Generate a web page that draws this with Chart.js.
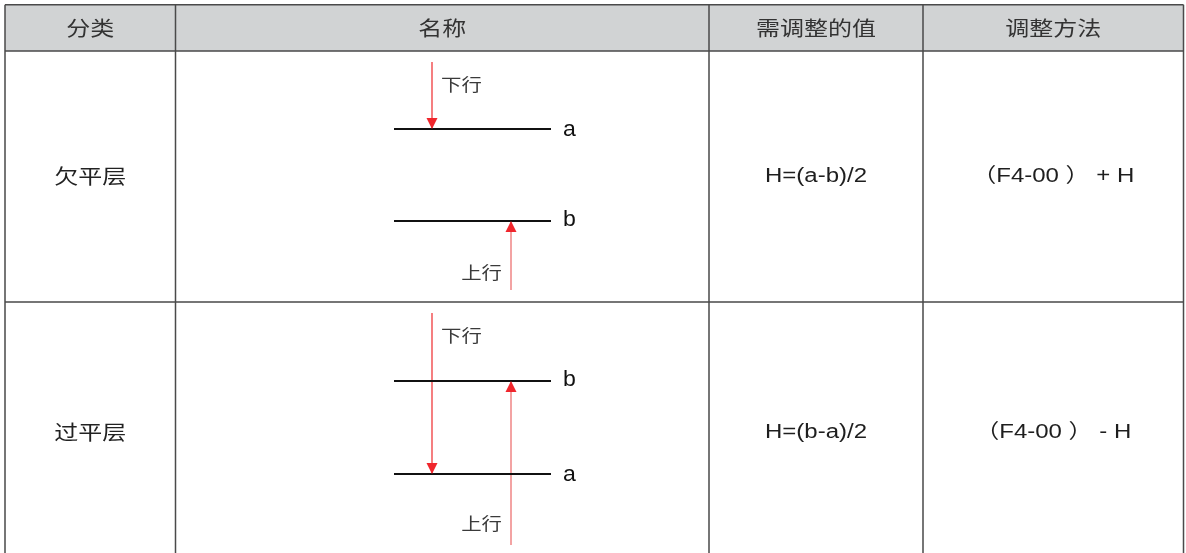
<!DOCTYPE html>
<html>
<head>
<meta charset="utf-8">
<script src="https://cdn.jsdelivr.net/npm/chart.js@4"></script>
<style>
  body { margin: 0; background: #fff; }
  canvas { display: block; }
</style>
</head>
<body>
<canvas id="chart" width="1186" height="553"></canvas>
<script>
const headers = ['分类', '名称', '需调整的值', '调整方法'];
const categories = ['欠平层', '过平层'];
const adjustValues = ['H=(a-b)/2', 'H=(b-a)/2'];
const adjustMethods = ['（F4-00 ） + H', '（F4-00 ） - H'];
// floor levels of each row, top one first; position inside the row (0 = row top, 1 = row bottom)
const levelNames = [['a', 'b'], ['b', 'a']];
const levelPos = [[0.311, 0.677], [0.315, 0.685]];
// down arrow (下行) always stops on level a, up arrow (上行) on level b
const downStart = [0.044, 0.044];
const upStart = [0.952, 0.968];
const arrowLabels = ['下行', '上行'];

// layout
const colEdges = [5, 175.5, 709, 923, 1183.5];
const rowSpans = [1, 1.04];   // second row runs past the bottom of the picture
const headerTop = -0.184;
const levelX = [394, 551];
const downX = 432, upX = 511;
const CJK = "'Noto Sans CJK SC', sans-serif";
const LATIN = "'Liberation Sans', 'Noto Sans CJK SC', sans-serif";

function stretchText(ctx, text, x, y, font, color, align, sx) {
    ctx.save();
    ctx.font = font;
    ctx.fillStyle = color;
    ctx.textAlign = align || 'center';
    ctx.textBaseline = 'middle';
    ctx.translate(x, y);
    ctx.scale(sx || 1.2, 1);
    ctx.fillText(text, 0, 0);
    ctx.restore();
}

function levelOf(row, name) {
    return row + levelPos[row][levelNames[row].indexOf(name)];
}

const datasets = [];
categories.forEach((cat, r) => {
    levelPos[r].forEach(p => {
        datasets.push({
            type: 'line',
            data: [{x: levelX[0], y: r + p}, {x: levelX[1], y: r + p}],
            borderColor: '#111', borderWidth: 2, pointRadius: 0
        });
    });
    datasets.push({
        type: 'line',
        data: [{x: downX, y: r + downStart[r]}, {x: downX, y: levelOf(r, 'a')}],
        borderColor: '#ee2a2e', borderWidth: 1.2, pointRadius: 0
    });
    datasets.push({
        type: 'line',
        data: [{x: upX, y: r + upStart[r]}, {x: upX, y: levelOf(r, 'b')}],
        borderColor: '#f08c8c', borderWidth: 1.6, pointRadius: 0
    });
});

const tablePlugin = {
    id: 'table',
    beforeDatasetsDraw(chart) {
        const ctx = chart.ctx;
        const xs = chart.scales.x, ys = chart.scales.y;
        const top = ys.getPixelForValue(headerTop);
        const headBottom = ys.getPixelForValue(0);
        const rowLine = ys.getPixelForValue(rowSpans[0]);
        const left = xs.getPixelForValue(colEdges[0]);
        const right = xs.getPixelForValue(colEdges[colEdges.length - 1]);

        ctx.save();
        ctx.fillStyle = '#d1d3d4';
        ctx.fillRect(left, top, right - left, headBottom - top);

        ctx.strokeStyle = '#4a4a4a';
        ctx.lineWidth = 1.5;
        ctx.beginPath();
        [top, headBottom, rowLine].forEach(y => { ctx.moveTo(left, y); ctx.lineTo(right, y); });
        colEdges.forEach(c => {
            const x = xs.getPixelForValue(c);
            ctx.moveTo(x, top);
            ctx.lineTo(x, chart.height + 5);
        });
        ctx.stroke();

        const mids = colEdges.slice(1).map((c, i) => xs.getPixelForValue((c + colEdges[i]) / 2));
        const headMid = (top + headBottom) / 2;
        headers.forEach((h, i) => stretchText(ctx, h, mids[i], headMid, '20px ' + CJK, '#333'));

        let start = 0;
        categories.forEach((cat, r) => {
            const y = ys.getPixelForValue(start + rowSpans[r] / 2);
            start += rowSpans[r];
            stretchText(ctx, cat, mids[0], y, '20px ' + CJK, '#222');
            stretchText(ctx, adjustValues[r], mids[2], y, '20px ' + LATIN, '#1e1e1e');
            stretchText(ctx, adjustMethods[r], mids[3], y, '20px ' + LATIN, '#1e1e1e');
        });
        ctx.restore();
    },
    afterDatasetsDraw(chart) {
        const ctx = chart.ctx;
        const xs = chart.scales.x, ys = chart.scales.y;
        ctx.save();
        categories.forEach((cat, r) => {
            // level names
            levelNames[r].forEach((n, i) => {
                const dy = n === 'a' ? 1 : -1;
                stretchText(ctx, n, xs.getPixelForValue(levelX[1] + 12), ys.getPixelForValue(r + levelPos[r][i]) + dy,
                    '22px ' + LATIN, '#111', 'left', 1.05);
            });
            // arrow heads
            ctx.fillStyle = '#f0262c';
            const dx = xs.getPixelForValue(downX), dy = ys.getPixelForValue(levelOf(r, 'a'));
            ctx.beginPath();
            ctx.moveTo(dx, dy);
            ctx.lineTo(dx - 5.5, dy - 11);
            ctx.lineTo(dx + 5.5, dy - 11);
            ctx.closePath();
            ctx.fill();
            const ux = xs.getPixelForValue(upX), uy = ys.getPixelForValue(levelOf(r, 'b'));
            ctx.beginPath();
            ctx.moveTo(ux, uy);
            ctx.lineTo(ux - 5.5, uy + 11);
            ctx.lineTo(ux + 5.5, uy + 11);
            ctx.closePath();
            ctx.fill();
            // arrow labels
            stretchText(ctx, arrowLabels[0], dx + 9, ys.getPixelForValue(r + 0.135), '17px ' + CJK, '#3a3a3a', 'left');
            stretchText(ctx, arrowLabels[1], ux - 9, ys.getPixelForValue(r + 0.884), '17px ' + CJK, '#3a3a3a', 'right');
        });
        ctx.restore();
    }
};

new Chart(document.getElementById('chart').getContext('2d'), {
    type: 'scatter',
    data: { datasets },
    options: {
        responsive: false,
        animation: false,
        events: [],
        layout: { padding: 0 },
        plugins: { legend: { display: false }, tooltip: { enabled: false } },
        scales: {
            x: { type: 'linear', min: 0, max: 1186, display: false },
            y: { type: 'linear', min: -0.2032, max: 2.0, reverse: true, display: false }
        }
    },
    plugins: [tablePlugin]
});
</script>
</body>
</html>
